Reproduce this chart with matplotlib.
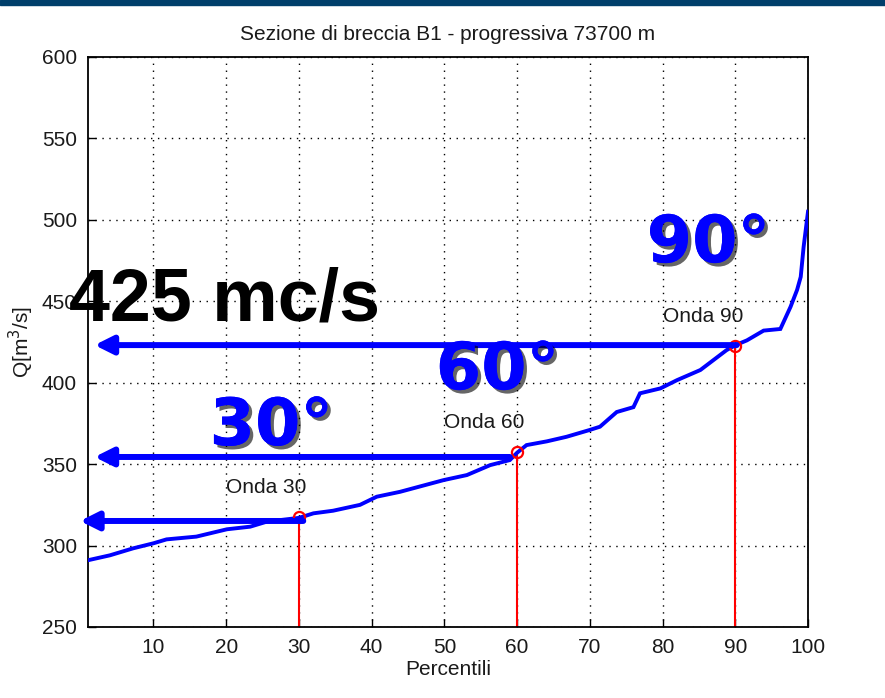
import matplotlib
matplotlib.use("Agg")
import matplotlib.pyplot as plt
import matplotlib.patheffects as pe
from matplotlib.patches import Rectangle

# === dati ===
percentili = [1, 4, 7.2, 10, 11.8, 15.9, 20.1, 23.3, 25.6, 30, 32, 34.7, 38.4, 40.7,
              43.9, 49.9, 53.1, 56.3, 59, 60, 61.3, 64.1, 66.8, 70, 71.4, 73.7, 76,
              76.9, 79.7, 82, 85.2, 88.8, 90, 91.6, 93.9, 96.2, 97.6, 98.5, 99, 99.4, 100]
portata = [291, 294, 298.3, 301.4, 303.8, 305.5, 310, 311.6, 314.7, 317, 319.8, 321.4,
           325, 330, 333, 340.2, 343.3, 349.4, 352.5, 357, 361.7, 364, 366.8, 371, 373,
           382, 385, 393.5, 396.5, 401.6, 407.8, 420, 423, 426, 432, 433, 446.6, 457,
           465, 483.5, 505]

onde_x = [30, 60, 90]
onde_q = [317.5, 357.4, 422.6]
onde_lab = ["Onda 30", "Onda 60", "Onda 90"]

# frecce (coda -> punta) e scritte grandi
frecce = [((30.6, 315.1), (-0.1, 315.1)),
          ((59.0, 354.4), (1.9, 354.4)),
          ((90.2, 423.1), (1.9, 423.1))]
gradi_lab = ["30°", "60°", "90°"]
gradi_pos = [(26.2, 361.7), (57.3, 396.0), (86.3, 474.0)]

xticks = [10, 20, 30, 40, 50, 60, 70, 80, 90, 100]
yticks = [250, 300, 350, 400, 450, 500, 550, 600]

plt.rcParams['font.family'] = ['Liberation Sans', 'DejaVu Sans']

fig = plt.figure(figsize=(8.85, 6.98), dpi=100)
ax = fig.add_axes([88 / 885, 71 / 698, 720 / 885, 570 / 698])

# barra blu in alto (slide)
fig.patches.append(Rectangle((0, 1 - 5 / 698), 1, 5 / 698, transform=fig.transFigure,
                             color='#003F6B', zorder=0))

ax.plot(percentili, portata, color='blue', lw=2.8, zorder=3, solid_joinstyle='miter')

for x, q, lab in zip(onde_x, onde_q, onde_lab):
    ax.plot([x, x], [250, q], color='red', lw=1.5, zorder=2)
    ax.plot(x, q, 'o', mfc='none', mec='red', ms=8, mew=1.6, zorder=4)
    ax.text(x - 10, q + 18, lab, fontsize=15, va='center', ha='left', color='#1a1a1a')

for coda, punta in frecce:
    ax.annotate('', xy=punta, xytext=coda, annotation_clip=False,
                arrowprops=dict(arrowstyle='-|>,head_length=0.9,head_width=0.45',
                                mutation_scale=12, lw=4.3, color='blue',
                                shrinkA=0, shrinkB=0), zorder=5)

ombra = [pe.withSimplePatchShadow(offset=(2.5, -2.5), shadow_rgbFace='black', alpha=0.6),
         pe.Normal()]
for lab, (x, y) in zip(gradi_lab, gradi_pos):
    ax.text(x, y, lab, fontsize=47, fontweight='bold', color='blue', ha='center',
            va='baseline', family='DejaVu Sans', path_effects=ombra, zorder=6,
            clip_on=False)

ax.text(19.8, 438.5, "425 mc/s", fontsize=53, fontweight='bold', color='black',
        ha='center', va='baseline', zorder=6, clip_on=False)

ax.set_xlim(1, 100)
ax.set_ylim(250, 600)
ax.set_xticks(xticks)
ax.set_yticks(yticks)
ax.tick_params(direction='in', length=6, width=1, labelsize=15, colors='black',
               labelcolor='#1a1a1a', pad=8)
ax.grid(True, color='black', linestyle=(0, (1, 4)), lw=1)
for s in ax.spines.values():
    s.set_linewidth(1.3)

ax.set_title("Sezione di breccia B1 - progressiva 73700 m", fontsize=15, pad=12,
             color='#1a1a1a')
ax.set_xlabel("Percentili", fontsize=15, labelpad=2, color='#1a1a1a')
ax.set_ylabel("Q[m$^3$/s]", fontsize=15, labelpad=4, color='#1a1a1a')

fig.savefig("out.png", dpi=100)
